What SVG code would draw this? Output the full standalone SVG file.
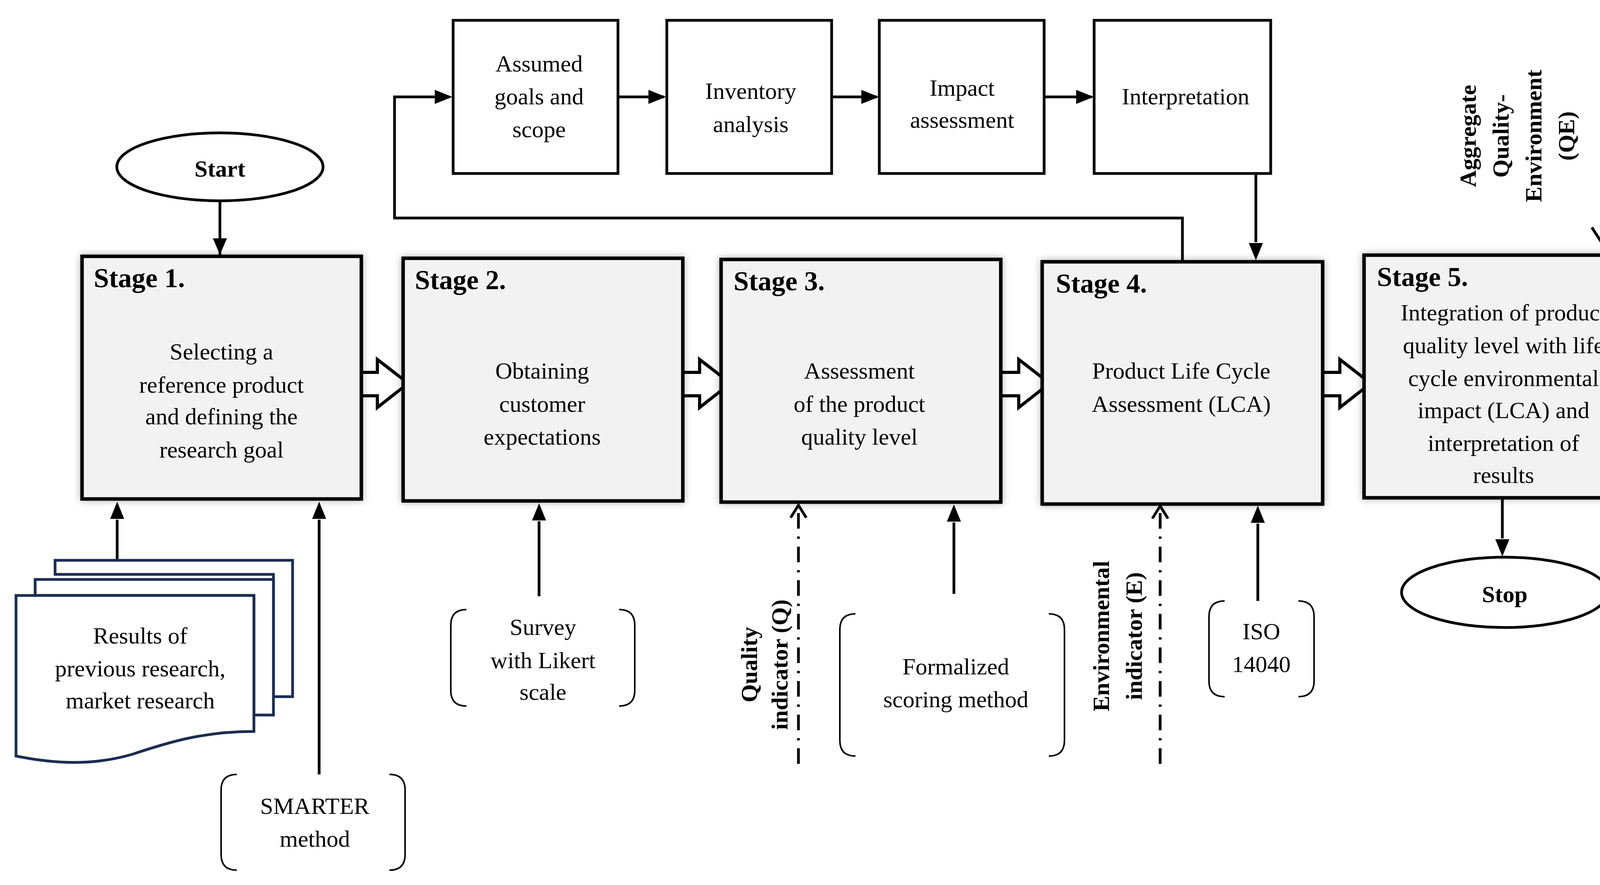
<svg xmlns="http://www.w3.org/2000/svg" width="4268" height="2265" viewBox="0 0 4268 2265">
<defs>
<style>
.t{font-family:"Liberation Serif","DejaVu Serif",serif;font-size:60px;fill:#000;text-anchor:middle}
.b{font-weight:bold}
.h{font-family:"Liberation Serif","DejaVu Serif",serif;font-size:70px;font-weight:bold;fill:#000}
.box{fill:#f2f2f2;stroke:#000;stroke-width:9;filter:url(#sh)}
.top{fill:#fff;stroke:#000;stroke-width:7}
.ln{fill:none;stroke:#000;stroke-width:7}
.dd{fill:none;stroke:#000;stroke-width:7;stroke-dasharray:40 20 6 20}
.br{fill:none;stroke:#000;stroke-width:4}
.doc{fill:#fff;stroke:#1a2c50;stroke-width:7}
.blk{fill:#fff;stroke:#000;stroke-width:8}
</style>
<filter id="sh" x="-10%" y="-10%" width="120%" height="120%"><feGaussianBlur in="SourceAlpha" stdDeviation="10"/><feComponentTransfer><feFuncA type="linear" slope="0.3"/></feComponentTransfer><feMerge><feMergeNode/><feMergeNode in="SourceGraphic"/></feMerge></filter>
<marker id="a" markerWidth="10" markerHeight="10" refX="9" refY="5" orient="auto" markerUnits="userSpaceOnUse" viewBox="0 0 10 10" style="overflow:visible"><path d="M-30,-18 L9,5 L-30,28 Z" transform="translate(0,0)" fill="#000"/></marker>
<marker id="o" markerWidth="10" markerHeight="10" refX="0" refY="0" orient="auto" markerUnits="userSpaceOnUse" style="overflow:visible"><path d="M-38,-28 L0,0 L-38,28" fill="none" stroke="#000" stroke-width="7"/></marker>
</defs>
<rect width="4268" height="2265" fill="#fff"/>

<g id="connectors">
<path class="ln" d="M563,514 V654" marker-end="url(#o)" style="marker-end:none"/>
<path d="M563,652 L545,610 L581,610 Z" fill="#000"/>
<path class="ln" d="M1582,248 H1700"/><path d="M1705,248 L1660,230 L1660,266 Z" fill="#000"/>
<path class="ln" d="M2129,248 H2245"/><path d="M2250,248 L2205,230 L2205,266 Z" fill="#000"/>
<path class="ln" d="M2673,248 H2795"/><path d="M2800,248 L2755,230 L2755,266 Z" fill="#000"/>
<path class="ln" d="M3027,668 V558 H1010 V248 H1150"/><path d="M1158,248 L1113,230 L1113,266 Z" fill="#000"/>
<path class="ln" d="M3215,444 V620"/><path d="M3215,666 L3197,622 L3233,622 Z" fill="#000"/>
<path class="ln" d="M300,1434 V1330"/><path d="M300,1284 L282,1328 L318,1328 Z" fill="#000"/>
<path class="ln" d="M817,1982 V1330"/><path d="M817,1284 L799,1328 L835,1328 Z" fill="#000"/>
<path class="ln" d="M1380,1526 V1334"/><path d="M1380,1288 L1362,1332 L1398,1332 Z" fill="#000"/>
<path class="ln" d="M2442,1520 V1337"/><path d="M2442,1291 L2424,1335 L2460,1335 Z" fill="#000"/>
<path class="ln" d="M3220,1538 V1340"/><path d="M3220,1294 L3202,1338 L3238,1338 Z" fill="#000"/>
<path class="ln" d="M3846,1277 V1378"/><path d="M3846,1424 L3828,1380 L3864,1380 Z" fill="#000"/>
<path class="dd" d="M2044,1955 V1300"/><path class="ln" d="M2024,1325 L2044,1293 L2064,1325"/>
<path class="dd" d="M2970,1955 V1302"/><path class="ln" d="M2950,1327 L2970,1295 L2990,1327"/>
<path class="dd" d="M4105,36 V625"/><path class="ln" d="M4075,582 L4105,628 L4135,582"/>
<path class="blk" d="M879,953 H966 V920 L1045,981 L966,1043 V1013 H879 Z"/>
<path class="blk" d="M1704,953 H1791 V920 L1870,981 L1791,1043 V1013 H1704 Z"/>
<path class="blk" d="M2521,953 H2608 V920 L2687,981 L2608,1043 V1013 H2521 Z"/>
<path class="blk" d="M3343,953 H3430 V920 L3509,981 L3430,1043 V1013 H3343 Z"/>
</g>

<g id="start"><ellipse cx="563" cy="427" rx="264" ry="87" fill="#fff" stroke="#000" stroke-width="7"/><text class="t b" x="563" y="452" font-size="72">Start</text></g>
<g id="stop"><ellipse cx="3852" cy="1516" rx="264" ry="90" fill="#fff" stroke="#000" stroke-width="7"/><text class="t b" x="3852" y="1541" font-size="72">Stop</text></g>

<g id="top1"><rect class="top" x="1160" y="52" width="422" height="392"/><text class="t" x="1380" y="183">Assumed</text><text class="t" x="1380" y="267">goals and</text><text class="t" x="1380" y="351">scope</text></g>
<g id="top2"><rect class="top" x="1707" y="52" width="422" height="392"/><text class="t" x="1922" y="253">Inventory</text><text class="t" x="1922" y="338">analysis</text></g>
<g id="top3"><rect class="top" x="2251" y="52" width="422" height="392"/><text class="t" x="2463" y="245">Impact</text><text class="t" x="2463" y="327">assessment</text></g>
<g id="top4"><rect class="top" x="2801" y="52" width="452" height="392"/><text class="t" x="3035" y="267">Interpretation</text></g>

<g id="stage1"><rect class="box" x="210" y="656" width="715" height="621"/><text class="h" x="240" y="735">Stage 1.</text>
<text class="t" x="567" y="920">Selecting a</text><text class="t" x="567" y="1005">reference product</text><text class="t" x="567" y="1086">and defining the</text><text class="t" x="567" y="1171">research goal</text></g>
<g id="stage2"><rect class="box" x="1032" y="661" width="716" height="621"/><text class="h" x="1062" y="740">Stage 2.</text>
<text class="t" x="1388" y="969">Obtaining</text><text class="t" x="1388" y="1054">customer</text><text class="t" x="1388" y="1138">expectations</text></g>
<g id="stage3"><rect class="box" x="1846" y="664" width="716" height="621"/><text class="h" x="1878" y="743">Stage 3.</text>
<text class="t" x="2200" y="969">Assessment</text><text class="t" x="2200" y="1054">of the product</text><text class="t" x="2200" y="1138">quality level</text></g>
<g id="stage4"><rect class="box" x="2668" y="670" width="718" height="620"/><text class="h" x="2703" y="749">Stage 4.</text>
<text class="t" x="3024" y="969">Product Life Cycle</text><text class="t" x="3024" y="1054">Assessment (LCA)</text></g>
<g id="stage5"><rect class="box" x="3492" y="653" width="716" height="621"/><text class="h" x="3525" y="732">Stage 5.</text>
<text class="t" x="3849" y="820">Integration of product</text><text class="t" x="3849" y="904">quality level with life</text><text class="t" x="3849" y="988">cycle environmental</text><text class="t" x="3849" y="1070">impact (LCA) and</text><text class="t" x="3849" y="1154">interpretation of</text><text class="t" x="3849" y="1236">results</text></g>

<g id="docs">
<path class="doc" d="M141,1434 H749 V1783 H700 V1470 H141 Z"/>
<path class="doc" d="M90,1483 H700 V1830 H650 V1524 H90 Z"/>
<path class="doc" d="M41,1524 H650 V1872 C520,1872 430,1900 340,1930 C240,1960 140,1955 41,1935 Z"/>
<text class="t" x="359" y="1647">Results of</text><text class="t" x="359" y="1731">previous research,</text><text class="t" x="359" y="1813">market research</text>
</g>
<g id="smarter"><path class="br" d="M606,1982 Q566,1982 566,2022 V2187 Q566,2227 606,2227 M997,1982 Q1037,1982 1037,2022 V2187 Q1037,2227 997,2227"/><text class="t" x="806" y="2083">SMARTER</text><text class="t" x="806" y="2167">method</text></g>
<g id="survey"><path class="br" d="M1194,1560 Q1154,1560 1154,1600 V1767 Q1154,1807 1194,1807 M1585,1560 Q1625,1560 1625,1600 V1767 Q1625,1807 1585,1807"/><text class="t" x="1390" y="1625">Survey</text><text class="t" x="1390" y="1710">with Likert</text><text class="t" x="1390" y="1791">scale</text></g>
<g id="formalized"><path class="br" d="M2190,1571 Q2150,1571 2150,1611 V1895 Q2150,1935 2190,1935 M2685,1571 Q2725,1571 2725,1611 V1895 Q2725,1935 2685,1935"/><text class="t" x="2447" y="1726">Formalized</text><text class="t" x="2447" y="1810">scoring method</text></g>
<g id="iso"><path class="br" d="M3135,1538 Q3095,1538 3095,1578 V1743 Q3095,1783 3135,1783 M3324,1538 Q3364,1538 3364,1578 V1743 Q3364,1783 3324,1783"/><text class="t" x="3229" y="1636">ISO</text><text class="t" x="3229" y="1720">14040</text></g>

<g id="quality-label"><text class="t b" transform="translate(1938,1701) rotate(-90)">Quality<tspan x="0" dy="78">indicator (Q)</tspan></text></g>
<g id="env-label"><text class="t b" transform="translate(2839,1628) rotate(-90)">Environmental<tspan x="0" dy="84">indicator (E)</tspan></text></g>
<g id="qe-label"><text class="t b" transform="translate(3778,348) rotate(-90)">Aggregate<tspan x="0" dy="84">Quality-</tspan><tspan x="0" dy="84">Environment</tspan><tspan x="0" dy="84">(QE)</tspan></text></g>
</svg>
